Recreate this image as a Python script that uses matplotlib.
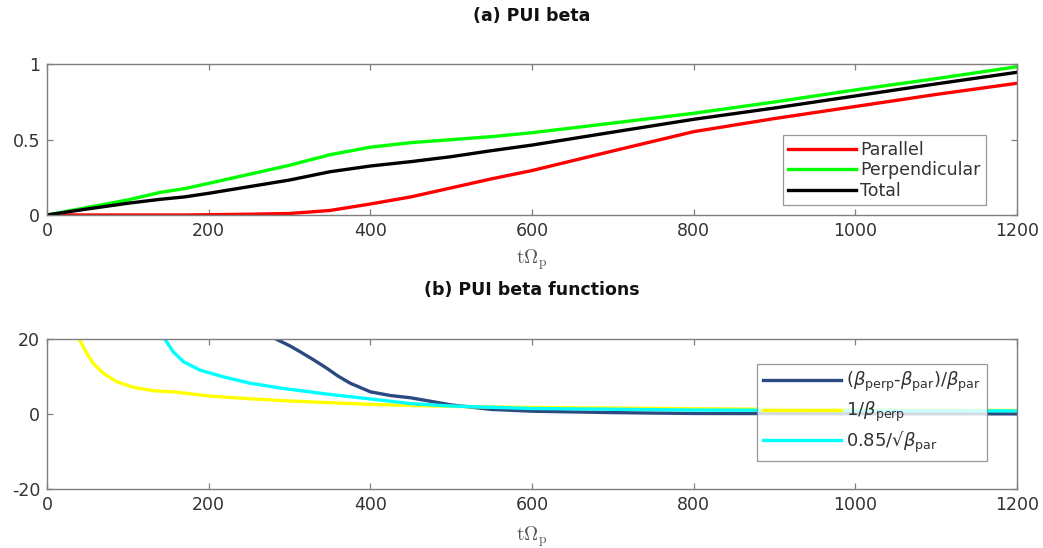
import matplotlib
matplotlib.use("Agg")
import matplotlib.pyplot as plt

# ---- data ----
t_top = [0, 50, 100, 140, 170, 200, 250, 300, 350, 400, 450, 500, 550, 600,
         700, 800, 900, 1000, 1100, 1200]
beta_par = [0, 0, 0, 0, 0, 0.002, 0.005, 0.01, 0.03, 0.073, 0.12, 0.18, 0.24,
            0.295, 0.425, 0.553, 0.64, 0.72, 0.80, 0.874]
beta_perp = [0, 0.05, 0.10, 0.15, 0.175, 0.21, 0.27, 0.33, 0.40, 0.45, 0.48,
             0.50, 0.52, 0.546, 0.61, 0.675, 0.75, 0.83, 0.905, 0.984]
beta_tot = [0, 0.04, 0.078, 0.104, 0.12, 0.144, 0.188, 0.232, 0.287, 0.325,
            0.354, 0.387, 0.427, 0.464, 0.55, 0.635, 0.71, 0.79, 0.87, 0.947]

t_aniso = [284, 300, 313, 330, 346, 360, 375, 400, 425, 450, 500, 550, 600, 700, 800, 1000, 1200]
aniso = [20, 18.3, 16.7, 14.5, 12.3, 10.2, 8.3, 6.0, 5.0, 4.4, 2.5, 1.3, 0.83, 0.45, 0.22,
         0.15, 0.12]
t_inv = [40, 47, 57, 70, 86, 107, 131, 160, 200, 239, 300, 350, 400, 500, 600, 800, 1000, 1200]
inv_perp = [20, 17.1, 13.6, 10.9, 8.7, 7.2, 6.3, 5.9, 4.9, 4.3, 3.55, 3.1, 2.65, 2.1, 1.83,
            1.48, 1.2, 1.02]
t_sq = [146, 156, 169, 189, 218, 251, 292, 346, 400, 450, 500, 600, 800, 1000, 1200]
sq_par = [20, 16.7, 14.0, 11.8, 10.0, 8.3, 6.9, 5.4, 4.1, 2.85, 2.2, 1.55, 1.14, 1.0, 0.91]

xticks = [0, 200, 400, 600, 800, 1000, 1200]
yticks_a = [0, 0.5, 1]
yticks_b = [-20, 0, 20]

plt.rcParams['font.family'] = ['DejaVu Sans']
plt.rcParams['mathtext.fontset'] = 'dejavusans'
plt.rcParams['axes.unicode_minus'] = False

W, H = 1043, 548
fig = plt.figure(figsize=(W / 100, H / 100), dpi=100)

axcol = '#7f7f7f'
txtcol = '#333333'


def style(ax, yt):
    ax.set_xlim(0, 1200)
    ax.set_xticks(xticks)
    ax.set_yticks(yt)
    for s in ax.spines.values():
        s.set_color(axcol)
        s.set_linewidth(1.0)
    ax.tick_params(direction='in', length=4, width=0.9, color=axcol,
                   labelcolor=txtcol, labelsize=12.5, top=True, right=True, pad=5)


ax1 = fig.add_axes([47 / W, 1 - 215 / H, 970 / W, 150.7 / H])
ax1.plot(t_top, beta_par, color='#ff0000', lw=2.4, label='Parallel')
ax1.plot(t_top, beta_perp, color='#00ff00', lw=2.4, label='Perpendicular')
ax1.plot(t_top, beta_tot, color='#000000', lw=2.4, label='Total')
ax1.set_ylim(0, 1)
style(ax1, yticks_a)
ax1.set_yticklabels(['0', '0.5', '1'])
leg1 = ax1.legend(loc='lower right', bbox_to_anchor=((985.7 - 47) / 970, (215 - 205) / 150.7),
                  fontsize=12.5, frameon=True, fancybox=False, edgecolor=axcol,
                  handlelength=3.9, handletextpad=0.25, borderpad=0.3, labelspacing=0.15,
                  borderaxespad=0)
leg1.get_frame().set_linewidth(0.9)
for tx in leg1.get_texts():
    tx.set_color(txtcol)

ax2 = fig.add_axes([47 / W, 1 - 489.3 / H, 970 / W, 150 / H])
ax2.plot(t_aniso, aniso, color='#2b4a80', lw=2.4,
         label=r'($\beta_{\rm perp}$-$\beta_{\rm par}$)/$\beta_{\rm par}$')
ax2.plot(t_inv, inv_perp, color='#ffff00', lw=2.4, label=r'1/$\beta_{\rm perp}$')
ax2.plot(t_sq, sq_par, color='#00ffff', lw=2.4, label='0.85/\u221a' + r'$\beta_{\rm par}$')
ax2.set_ylim(-20, 20)
style(ax2, yticks_b)
leg2 = ax2.legend(loc='lower right', bbox_to_anchor=((986.7 - 47) / 970, (489.3 - 461) / 150),
                  fontsize=13, frameon=True, fancybox=False, edgecolor=axcol,
                  handlelength=4.3, handletextpad=0.25, borderpad=0.35, labelspacing=0.3,
                  borderaxespad=0)
leg2.get_frame().set_linewidth(0.9)
for tx in leg2.get_texts():
    tx.set_color(txtcol)

# titles and axis labels
fig.text(532 / W, 1 - 16 / H, '(a) PUI beta', ha='center', va='center',
         fontsize=12.5, fontweight='bold', color='#111111')
fig.text(532 / W, 1 - 290 / H, '(b) PUI beta functions', ha='center', va='center',
         fontsize=12.5, fontweight='bold', color='#111111')
for yy in (260, 537):
    fig.text(532 / W, 1 - yy / H, r'$\mathrm{t\Omega_p}$', ha='center', va='center',
             fontsize=14, color='#555555', math_fontfamily='cm')

fig.savefig('out.png', dpi=100)
